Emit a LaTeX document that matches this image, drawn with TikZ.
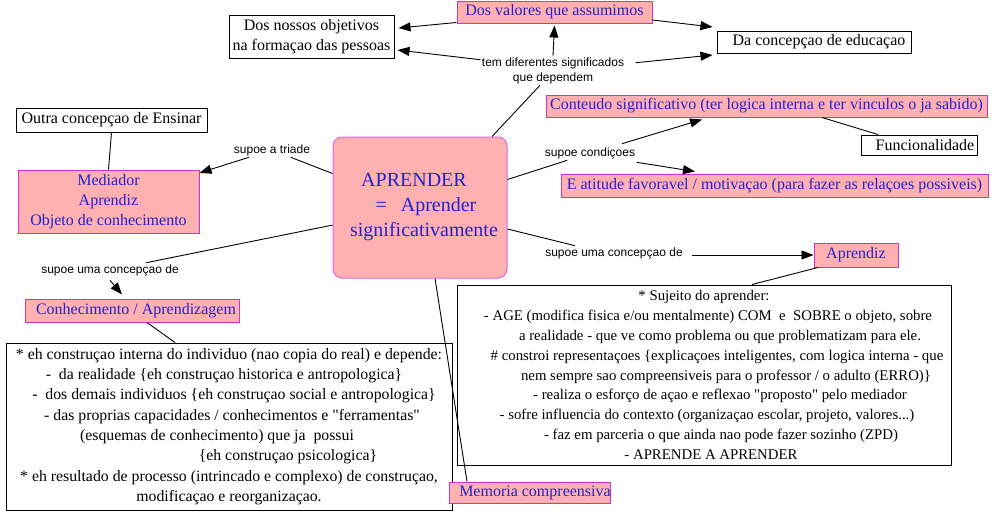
\documentclass[tikz,border=0pt]{standalone}
\usepackage{fontspec}
\setmainfont{Liberation Serif}
\newfontfamily\lsans{Liberation Sans}
\usetikzlibrary{arrows.meta,calc}
\definecolor{pinkfill}{HTML}{FFB1B1}
\definecolor{magbord}{HTML}{CC33CC}
\definecolor{bluetxt}{HTML}{2222CC}
\definecolor{aprbord}{HTML}{E066E0}
\newcommand{\qq}[1]{\textquotedbl#1\textquotedbl}
\begin{document}
\begin{tikzpicture}[x=1pt,y=-1pt,
  wbox/.style={draw=black,fill=white,line width=1pt,inner sep=0pt,font=\fontsize{16}{20}\selectfont,align=center},
  pbox/.style={draw=magbord,fill=pinkfill,line width=1pt,inner sep=0pt,text=bluetxt,font=\fontsize{16}{20}\selectfont,align=center},
  lbl/.style={font=\lsans\fontsize{12}{15}\selectfont,inner sep=1.5pt,align=center},
  conn/.style={line width=0.9pt},
  arr/.style={conn,-{Triangle[length=12pt,width=9pt]}},
]
\useasboundingbox (0,0) rectangle (996,515);
\fill[white] (0,0) rectangle (996,515);

% top
\node[pbox,minimum width=195pt,minimum height=22pt] (valores) at (554.5,12) {Dos valores que assumimos};
\node[wbox,minimum width=165pt,minimum height=43pt] (objetivos) at (311.5,36.5) {Dos nossos objetivos\\na formaçao das pessoas};
\node[wbox,minimum width=194pt,minimum height=22pt] (educacao) at (814,42) {\hspace*{10pt}Da concepçao de educaçao};
\node[lbl] (tem) at (553,70.5) {tem diferentes significados\\que dependem};

% left
\node[wbox,minimum width=191pt,minimum height=24pt] (outra) at (111.5,120) {Outra concepçao de Ensinar};
\node[pbox,minimum width=181pt,minimum height=63pt] (mediador) at (108.5,201.5) {Mediador\\Aprendiz\\Objeto de conhecimento};
\node[lbl] (triade) at (272,150) {supoe a triade};
\node[lbl] (supoeL) at (110,270) {supoe uma concepçao de};
\node[pbox,minimum width=214pt,minimum height=23pt] (conhec) at (132,310.5) {\hspace*{8pt}Conhecimento / Aprendizagem};

% centre
\node[draw=aprbord,fill=pinkfill,line width=1pt,rounded corners=9pt,text=bluetxt,
      minimum width=174pt,minimum height=141pt,inner sep=0pt,align=center,
      font=\fontsize{20}{25}\selectfont] (aprender) at (420,207.5)
      {APRENDER\hspace*{12pt}\mbox{}\\\hspace*{12pt}=\hspace{14pt}Aprender\\\hspace*{8pt}significativamente};

% left big box
\node[wbox,minimum width=446pt,minimum height=167pt,
      font=\fontsize{15.8}{20.3}\selectfont] (leftbig) at (229,426.5)
{* eh construçao interna do individuo (nao copia do real) e depende:\\
-\ \ da realidade \{eh construçao historica e antropologica\}\hspace*{10pt}\mbox{}\\
\hspace*{10pt}-\ \ dos demais individuos \{eh construçao social e antropologica\}\\
\hspace*{6pt}- das proprias capacidades / conhecimentos e \qq{ferramentas}\\
(esquemas de conhecimento) que ja\ \ possui\hspace*{24pt}\mbox{}\\
\hspace*{118pt}\{eh construçao psicologica\}\\
{}* eh resultado de processo (intrincado e complexo) de construçao,\\
modificaçao e reorganizaçao.};

\node[pbox,minimum width=156pt,minimum height=21pt] (memoria) at (530,492.5) {\hspace*{10pt}Memoria compreensiva};

% right
\node[pbox,minimum width=441pt,minimum height=22pt] (conteudo) at (766.5,106) {Conteudo significativo (ter logica interna e ter vinculos o ja sabido)};
\node[wbox,minimum width=116pt,minimum height=20pt] (funcion) at (919,145) {\hspace*{12pt}Funcionalidade};
\node[lbl] (condic) at (590,153) {supoe condiçoes};
\node[pbox,minimum width=427pt,minimum height=23pt] (atitude) at (774.5,185.5) {E atitude favoravel / motivaçao (para fazer as relaçoes possiveis)};
\node[lbl] (supoeR) at (614,253) {supoe uma concepçao de};
\node[pbox,minimum width=84pt,minimum height=24pt] (aprendiz) at (856,255) {Aprendiz};

\node[wbox,minimum width=494pt,minimum height=180pt,
      font=\fontsize{14.8}{19.8}\selectfont] (rightbig) at (704,375)
{* Sujeito do aprender:\\
\hspace*{8pt}- AGE (modifica fisica e/ou mentalmente) COM\ \ e\ \ SOBRE o objeto, sobre\\
\hspace*{32pt}a realidade - que ve como problema ou que problematizam para ele.\\
\hspace*{26pt}\# constroi representaçoes \{explicaçoes inteligentes, com logica interna - que\\
\hspace*{44pt}nem sempre sao compreensiveis para o professor / o adulto (ERRO)\}\\
\hspace*{32pt}- realiza o esforço de açao e reflexao \qq{proposto} pelo mediador\\
\hspace*{6pt}- sofre influencia do contexto (organizaçao escolar, projeto, valores...)\\
\hspace*{34pt}- faz em parceria o que ainda nao pode fazer sozinho (ZPD)\\
\hspace*{14pt}- APRENDE A APRENDER};

% connectors
\draw[conn] (aprender) -- (triade);
\draw[arr] (triade) -- (mediador);
\draw[conn] (outra.south) -- (mediador.north);
\draw[conn] (aprender) -- (supoeL);
\draw[arr] ([yshift=-3pt]supoeL.south) -- ([xshift=-10pt,yshift=4pt]conhec.north);
\draw[conn] ([xshift=15pt]conhec.south) -- ([xshift=-54pt]leftbig.north);
\draw[conn] ([xshift=15pt]aprender.south) -- ([xshift=-63pt]memoria.north);
\draw[conn] (aprender) -- ([xshift=-39pt]supoeR.north);
\draw[arr,shorten <=8pt] ([yshift=-2pt]supoeR.east) -- (aprendiz.west);
\draw[conn] ([xshift=-38pt]aprendiz.south) -- ([xshift=48pt]rightbig.north);
\draw[conn] (aprender) -- (condic);
\draw[arr] ([xshift=32pt,yshift=2pt]condic.north) -- ([xshift=-64.5pt,yshift=-2pt]conteudo.south);
\draw[arr] ([yshift=-2pt]condic.south east) -- ([xshift=-79.5pt,yshift=2pt]atitude.north);
\draw[conn] ([xshift=55.5pt]conteudo.south) -- ([xshift=-41pt]funcion.north);
\draw[conn] ([xshift=72pt]aprender.north) -- ([xshift=-13pt]tem.south);
\draw[arr] (tem.north) -- ([yshift=-2pt]valores.south);
\draw[arr] ([yshift=-4pt]tem.north west) -- ([xshift=3pt,yshift=-13.5pt]objetivos.east);
\draw[arr] ([yshift=1pt]valores.south west) -- ([xshift=4pt,yshift=8.5pt]objetivos.east);
\draw[arr] ([yshift=-8pt]valores.east) -- ([xshift=-4pt,yshift=15pt]educacao.west);
\draw[arr] ([xshift=10pt,yshift=-7pt]tem.north east) -- ([xshift=-4pt,yshift=-13pt]educacao.west);
\end{tikzpicture}
\end{document}
